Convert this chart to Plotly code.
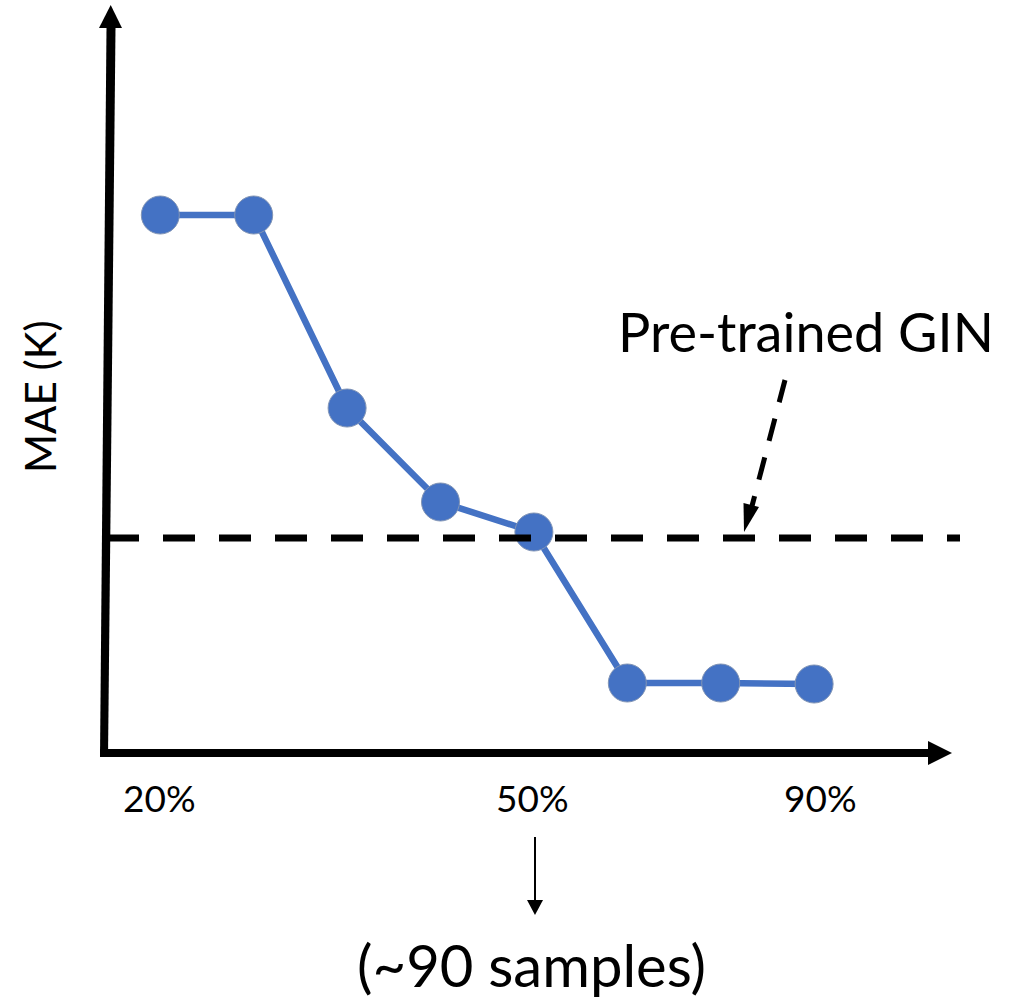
import plotly.graph_objects as go

# Training-set fraction (schematic positions along the x axis) and the resulting MAE
sample_idx = [0, 1, 2, 3, 4, 5, 6, 7]
mae_k = [5.38, 5.38, 3.45, 2.51, 2.21, 0.70, 0.70, 0.69]

# Reference level of the pre-trained GIN model
gin_mae = 2.15

# Tick labels shown under the x axis
tick_idx = [0, 4, 7]
tick_text = ["20%", "50%", "90%"]

W, H = 1025, 998
FONT = "Lato, 'Open Sans', sans-serif"
BLUE = "#4472C4"


def px(x):
    return x / W


def py(y):
    return 1 - y / H


def poly(points):
    d = "M " + " L ".join(f"{px(x):.5f},{py(y):.5f}" for x, y in points) + " Z"
    return dict(type="path", xref="paper", yref="paper", path=d,
                fillcolor="black", line=dict(width=0), layer="above")


fig = go.Figure()

fig.add_trace(go.Scatter(
    x=sample_idx, y=mae_k, mode="lines+markers",
    line=dict(color=BLUE, width=6.5),
    marker=dict(size=38, color=BLUE, line=dict(color="#8194b5", width=1)),
    hoverinfo="skip", showlegend=False,
))

shapes = []
# y axis (slightly slanted shaft) with arrowhead
shapes.append(poly([(100, 757), (108, 757), (115.5, 28), (106.5, 28)]))
shapes.append(poly([(99, 28), (122, 28), (110.7, 5)]))
# x axis with arrowhead
shapes.append(poly([(100, 749), (928, 749), (928, 757), (100, 757)]))
shapes.append(poly([(928, 741), (952, 753), (928, 765)]))

# Pre-trained GIN reference line
shapes.append(dict(type="line", xref="paper", yref="y",
                   x0=px(107), x1=px(960), y0=gin_mae, y1=gin_mae,
                   line=dict(color="black", width=7, dash="32px,24px"),
                   layer="above"))

# dashed pointer from the label to the reference line
shapes.append(dict(type="line", xref="paper", yref="paper",
                   x0=px(785), y0=py(380), x1=px(752), y1=py(506),
                   line=dict(color="black", width=5, dash="23px,17px"),
                   layer="above"))
shapes.append(poly([(743.5, 503), (759, 507), (744, 532)]))

# small arrow under the 50% label
shapes.append(dict(type="line", xref="paper", yref="paper",
                   x0=px(535), y0=py(837), x1=px(535), y1=py(902),
                   line=dict(color="black", width=2), layer="above"))
shapes.append(poly([(527, 900), (543, 900), (535, 915)]))

annotations = []
for i, t in zip(tick_idx, tick_text):
    annotations.append(dict(x=i, y=py(797), xref="x", yref="paper", text=t,
                            showarrow=False, xanchor="center", yanchor="middle",
                            xshift=6 if i == tick_idx[-1] else -1,
                            font=dict(family=FONT, size=37, color="black")))

annotations.append(dict(x=px(806), y=py(331), xref="paper", yref="paper",
                        text="Pre-trained GIN", showarrow=False,
                        xanchor="center", yanchor="middle",
                        font=dict(family=FONT, size=54, color="black")))

annotations.append(dict(x=px(40), y=py(397), xref="paper", yref="paper",
                        text="MAE (K)", showarrow=False, textangle=-90,
                        xanchor="center", yanchor="middle",
                        font=dict(family=FONT, size=42, color="black")))

annotations.append(dict(x=px(531), y=py(964), xref="paper", yref="paper",
                        text="(~90 samples)", showarrow=False,
                        xanchor="center", yanchor="middle",
                        font=dict(family=FONT, size=58, color="black")))

fig.update_layout(
    width=W, height=H,
    margin=dict(l=0, r=0, t=0, b=0),
    paper_bgcolor="white", plot_bgcolor="white",
    xaxis=dict(range=[-160.3 / 93.4, (W - 160.3) / 93.4], visible=False, fixedrange=True),
    yaxis=dict(range=[(753 - H) / 100, 753 / 100], visible=False, fixedrange=True),
    shapes=shapes, annotations=annotations,
)

fig.write_html("out.html", config={"displayModeBar": False})
